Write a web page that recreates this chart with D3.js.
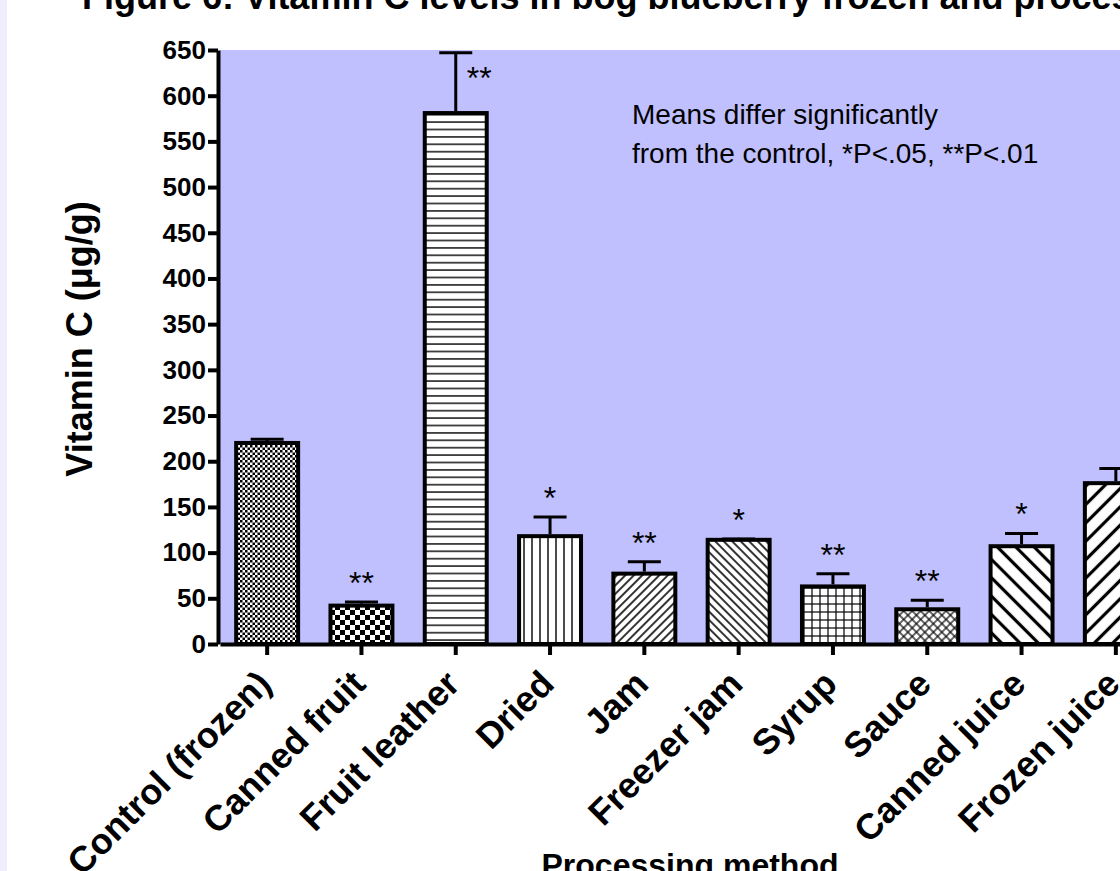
<!DOCTYPE html>
<html>
<head>
<meta charset="utf-8">
<script src="https://cdn.jsdelivr.net/npm/d3@7/dist/d3.min.js"></script>
<style>
  html, body { margin: 0; padding: 0; background: #ffffff; }
  svg { display: block; }
  text { font-family: "Liberation Sans", Arial, sans-serif; }
</style>
</head>
<body>
<svg id="chart" width="1120" height="871"></svg>
<script>
// ---- data ----
const categories = ["Control (frozen)", "Canned fruit", "Fruit leather", "Dried", "Jam",
  "Freezer jam", "Syrup", "Sauce", "Canned juice", "Frozen juice"];
const means = [220, 42, 581, 118, 77, 114, 63, 38, 107, 176];
const errors = [4, 4, 66, 21, 13, 1, 14, 10, 14, 16];
const significance = ["", "**", "**", "*", "**", "*", "**", "**", "*", ""];
const yTicks = [0, 50, 100, 150, 200, 250, 300, 350, 400, 450, 500, 550, 600, 650];
const titleText = "Figure 6: Vitamin C levels in bog blueberry frozen and processed products";
const yTitle = "Vitamin C (\u03BCg/g)";
const xTitle = "Processing method";
const noteLines = ["Means differ significantly", "from the control, *P<.05, **P<.01"];

// ---- styles (not data) ----
const patternIds = ["pFineCheck", "pCoarseCheck", "pHoriz", "pVert", "pDiagFwd", "pDiagBack",
  "pGrid", "pCross", "pDiagBackWide", "pDiagFwdWide"];

const svg = d3.select("#chart");
const W = 1120, H = 871;
const plot = { left: 220, right: 1163, top: 50, bottom: 644 };

// left page strip
svg.append("rect").attr("x", 0).attr("y", 0).attr("width", 7).attr("height", H).attr("fill", "#eeeefc");

const defs = svg.append("defs");
function pat(id, size, transform) {
  const p = defs.append("pattern").attr("id", id).attr("patternUnits", "userSpaceOnUse")
    .attr("width", size).attr("height", size);
  if (transform) p.attr("patternTransform", transform);
  p.append("rect").attr("width", size).attr("height", size).attr("fill", "#fff");
  return p;
}
let p = pat("pFineCheck", 5);
p.append("rect").attr("x", 0).attr("y", 0).attr("width", 2.5).attr("height", 2.5).attr("fill", "#000");
p.append("rect").attr("x", 2.5).attr("y", 2.5).attr("width", 2.5).attr("height", 2.5).attr("fill", "#000");
p = pat("pCoarseCheck", 10);
p.append("rect").attr("x", 0).attr("y", 0).attr("width", 5).attr("height", 5).attr("fill", "#000");
p.append("rect").attr("x", 5).attr("y", 5).attr("width", 5).attr("height", 5).attr("fill", "#000");
p = pat("pHoriz", 7.4);
p.append("line").attr("x1", 0).attr("x2", 7.4).attr("y1", 3.7).attr("y2", 3.7).attr("stroke", "#000").attr("stroke-width", 1.4);
p = pat("pVert", 8);
p.append("line").attr("y1", 0).attr("y2", 8).attr("x1", 4).attr("x2", 4).attr("stroke", "#000").attr("stroke-width", 1.4);
p = pat("pDiagFwd", 6, "rotate(45)");
p.append("line").attr("y1", 0).attr("y2", 6).attr("x1", 3).attr("x2", 3).attr("stroke", "#000").attr("stroke-width", 1.6);
p = pat("pDiagBack", 6, "rotate(-45)");
p.append("line").attr("y1", 0).attr("y2", 6).attr("x1", 3).attr("x2", 3).attr("stroke", "#000").attr("stroke-width", 1.6);
p = pat("pGrid", 8);
p.append("line").attr("y1", 0).attr("y2", 8).attr("x1", 4).attr("x2", 4).attr("stroke", "#000").attr("stroke-width", 1.2);
p.append("line").attr("x1", 0).attr("x2", 8).attr("y1", 4).attr("y2", 4).attr("stroke", "#000").attr("stroke-width", 1.2);
p = pat("pCross", 6, "rotate(45)");
p.append("line").attr("y1", 0).attr("y2", 6).attr("x1", 3).attr("x2", 3).attr("stroke", "#000").attr("stroke-width", 1.2);
p.append("line").attr("x1", 0).attr("x2", 6).attr("y1", 3).attr("y2", 3).attr("stroke", "#000").attr("stroke-width", 1.2);
p = pat("pDiagBackWide", 13, "rotate(-45)");
p.append("line").attr("y1", 0).attr("y2", 13).attr("x1", 6.5).attr("x2", 6.5).attr("stroke", "#000").attr("stroke-width", 3.2);
p = pat("pDiagFwdWide", 13, "rotate(45)");
p.append("line").attr("y1", 0).attr("y2", 13).attr("x1", 6.5).attr("x2", 6.5).attr("stroke", "#000").attr("stroke-width", 3.2);

// ---- scales ----
const x = d3.scaleBand().domain(categories).range([plot.left, plot.right]).paddingInner(0.343).paddingOuter(0.1715);
const y = d3.scaleLinear().domain([0, 650]).range([plot.bottom, plot.top]);

svg.append("rect").attr("x", plot.left).attr("y", plot.top)
  .attr("width", plot.right - plot.left).attr("height", plot.bottom - plot.top)
  .attr("fill", "#c0c0ff");

// title (cropped at top)
svg.append("text").attr("x", 82).attr("y", 9).attr("font-size", 36).attr("font-weight", "bold")
  .attr("fill", "#000").text(titleText);

const data = categories.map((c, i) => ({ c, m: means[i], e: errors[i], s: significance[i], pid: patternIds[i] }));
const g = svg.append("g");
g.selectAll("rect.bar").data(data).join("rect").attr("class", "bar")
  .attr("x", d => x(d.c)).attr("width", x.bandwidth())
  .attr("y", d => y(d.m)).attr("height", d => y(0) - y(d.m))
  .attr("fill", d => `url(#${d.pid})`).attr("stroke", "#000").attr("stroke-width", 4);

const cx = d => x(d.c) + x.bandwidth() / 2;
g.selectAll("line.ev").data(data).join("line").attr("class", "ev")
  .attr("x1", cx).attr("x2", cx).attr("y1", d => y(d.m) - 2).attr("y2", d => y(d.m + d.e))
  .attr("stroke", "#000").attr("stroke-width", 3);
g.selectAll("line.ec").data(data).join("line").attr("class", "ec")
  .attr("x1", d => cx(d) - 16.5).attr("x2", d => cx(d) + 16.5)
  .attr("y1", d => y(d.m + d.e)).attr("y2", d => y(d.m + d.e))
  .attr("stroke", "#000").attr("stroke-width", 3);

const nearTop = d => y(d.m + d.e) - 40 < plot.top;
g.selectAll("text.sig").data(data.filter(d => d.s)).join("text").attr("class", "sig")
  .attr("text-anchor", d => nearTop(d) ? "start" : "middle")
  .attr("x", d => nearTop(d) ? cx(d) + 11 : cx(d))
  .attr("y", d => nearTop(d) ? y(d.m + d.e) + 36 : y(d.m + d.e) - 8)
  .attr("font-size", 32).attr("fill", "#000").text(d => d.s);

const note = svg.append("text").attr("font-size", 28).attr("fill", "#000");
noteLines.forEach((t, i) => note.append("tspan").attr("x", 632).attr("y", 124 + i * 39).text(t));

const yAxis = svg.append("g").attr("transform", `translate(218,0)`)
  .call(d3.axisLeft(y).tickValues(yTicks).tickSize(10).tickSizeOuter(0).tickPadding(2));
yAxis.select(".domain").attr("stroke", "#000").attr("stroke-width", 4);
yAxis.selectAll(".tick line").attr("stroke", "#000").attr("stroke-width", 4);
yAxis.selectAll(".tick text").attr("font-size", 26).attr("font-weight", "bold").attr("fill", "#000")
  .attr("font-family", "Liberation Sans, Arial, sans-serif");

const xAxis = svg.append("g").attr("transform", `translate(0,${plot.bottom})`)
  .call(d3.axisBottom(x).tickSize(11).tickSizeOuter(0).tickFormat(""));
xAxis.select(".domain").attr("stroke", "#000").attr("stroke-width", 4);
xAxis.selectAll(".tick line").attr("stroke", "#000").attr("stroke-width", 4);

svg.append("g").selectAll("text.xl").data(categories).join("text").attr("class", "xl")
  .attr("text-anchor", "end")
  .attr("transform", d => `translate(${x(d) + x.bandwidth() / 2 + 6},686) rotate(-45)`)
  .attr("font-size", 36).attr("font-weight", "bold").attr("fill", "#000").text(d => d);

svg.append("text").attr("transform", "translate(92,339) rotate(-90)").attr("text-anchor", "middle")
  .attr("font-size", 36).attr("font-weight", "bold").attr("fill", "#000").text(yTitle);
svg.append("text").attr("x", 690).attr("y", 876).attr("text-anchor", "middle")
  .attr("font-size", 32).attr("font-weight", "bold").attr("fill", "#000").text(xTitle);
</script>
</body>
</html>
